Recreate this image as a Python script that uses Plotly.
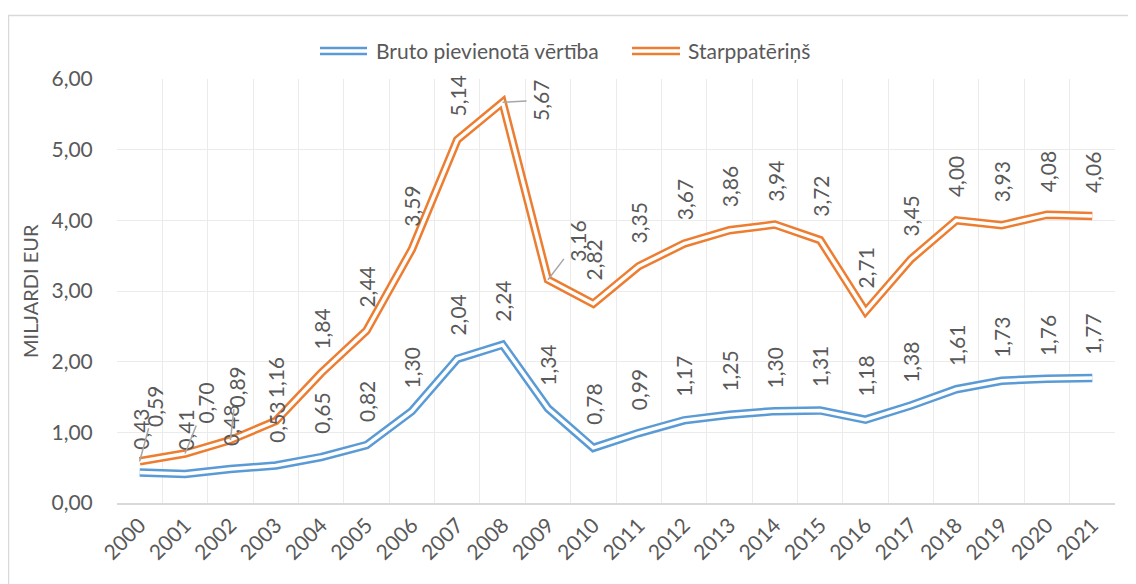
import plotly.graph_objects as go

years = [str(y) for y in range(2000, 2022)]
bruto = [0.43, 0.41, 0.48, 0.53, 0.65, 0.82, 1.30, 2.04, 2.24, 1.34, 0.78,
         0.99, 1.17, 1.25, 1.30, 1.31, 1.18, 1.38, 1.61, 1.73, 1.76, 1.77]
starp = [0.59, 0.70, 0.89, 1.16, 1.84, 2.44, 3.59, 5.14, 5.67, 3.16, 2.82,
         3.35, 3.67, 3.86, 3.94, 3.72, 2.71, 3.45, 4.00, 3.93, 4.08, 4.06]
series_names = ["Bruto pievienotā vērtība", "Starppatēriņš"]
colors = ["#5B9BD5", "#ED7D31"]
y_ticks = [0, 1, 2, 3, 4, 5, 6]
y_tick_text = ["0,00", "1,00", "2,00", "3,00", "4,00", "5,00", "6,00"]
y_title = "MILJARDI EUR"

# moved labels (Starppatēriņš) with leader lines: index -> (dx, dy) pixel offsets
moved_starp = {0: (15, -55), 1: (20, -50), 2: (6, -53), 8: (38, -2), 9: (30, -39)}

FONT = "Lato"
TXT = "#595959"
OFF = 8  # page body margin
W, H = 1136 - OFF, 584 - OFF
L, T = 117 - OFF, 79 - OFF
R = W - (1115 - OFF)
B = H - (503 - OFF)
pw, ph = W - L - R, H - T - B

def px_x(px):
    return (px - OFF - L) / pw

def px_y(py):
    return (H - B - (py - OFF)) / ph

fig = go.Figure()
for vals, col in [(bruto, colors[0]), (starp, colors[1])]:
    fig.add_trace(go.Scatter(x=years, y=vals, mode="lines",
                             line=dict(color=col, width=8.5, simplify=False),
                             showlegend=False, hoverinfo="skip"))
    fig.add_trace(go.Scatter(x=years, y=vals, mode="lines",
                             line=dict(color="white", width=3.5, simplify=False),
                             showlegend=False, hoverinfo="skip"))

def fmt(v):
    return f"{v:.2f}".replace(".", ",")

annotations = []
for i, v in enumerate(bruto):
    annotations.append(dict(x=i, y=v, text=fmt(v), textangle=-90, showarrow=False,
                            xanchor="center", yanchor="bottom", yshift=21,
                            font=dict(family=FONT, size=21, color=TXT)))
for i, v in enumerate(starp):
    if i in moved_starp:
        dx, dy = moved_starp[i]
        annotations.append(dict(x=i, y=v, text=fmt(v), textangle=-90, showarrow=True,
                                ax=dx, ay=dy, arrowhead=0, arrowwidth=1.5,
                                arrowcolor="#A6A6A6", standoff=0,
                                font=dict(family=FONT, size=21, color=TXT)))
    else:
        annotations.append(dict(x=i, y=v, text=fmt(v), textangle=-90, showarrow=False,
                                xanchor="center", yanchor="bottom", yshift=21,
                                font=dict(family=FONT, size=21, color=TXT)))

# y-axis title
annotations.append(dict(xref="paper", yref="paper", x=px_x(30), y=0.5, text=y_title,
                        textangle=-90, showarrow=False, xanchor="center", yanchor="middle",
                        font=dict(family=FONT, size=20, color=TXT)))

# manual legend (double line swatches)
shapes = []
legend_items = [(320, 367, 374), (632, 680, 686)]
leg_y = 51
for (x0, x1, tx), name, col in zip(legend_items, series_names, colors):
    shapes.append(dict(type="line", xref="paper", yref="paper",
                       x0=px_x(x0), x1=px_x(x1), y0=px_y(leg_y), y1=px_y(leg_y),
                       line=dict(color=col, width=8.5)))
    shapes.append(dict(type="line", xref="paper", yref="paper",
                       x0=px_x(x0), x1=px_x(x1), y0=px_y(leg_y), y1=px_y(leg_y),
                       line=dict(color="white", width=3.5)))
    annotations.append(dict(xref="paper", yref="paper", x=px_x(tx), y=px_y(leg_y),
                            text=name, showarrow=False, xanchor="left", yanchor="middle",
                            font=dict(family=FONT, size=21, color=TXT)))

# chart border (left and top edges visible)
shapes.append(dict(type="line", xref="paper", yref="paper", x0=px_x(8.5), x1=px_x(8.5),
                   y0=px_y(15), y1=px_y(600), line=dict(color="#D9D9D9", width=1.5)))
shapes.append(dict(type="line", xref="paper", yref="paper", x0=px_x(8), x1=px_x(1150),
                   y0=px_y(15.5), y1=px_y(15.5), line=dict(color="#D9D9D9", width=1.5)))

fig.update_layout(
    width=W, height=H,
    margin=dict(l=L, r=R, t=T, b=B, autoexpand=False),
    paper_bgcolor="white", plot_bgcolor="white",
    showlegend=False,
    annotations=annotations, shapes=shapes,
    xaxis=dict(type="category", range=[-0.5, len(years) - 0.5], tickson="boundaries",
               showgrid=True, gridcolor="#EBEBEB", gridwidth=1,
               tickangle=-45, ticks="outside", ticklen=9, tickcolor="rgba(0,0,0,0)",
               tickfont=dict(family=FONT, size=21, color=TXT),
               showline=True, linecolor="#D9D9D9", linewidth=1.5, zeroline=False),
    yaxis=dict(range=[0, 6], tickvals=y_ticks, ticktext=y_tick_text,
               showgrid=True, gridcolor="#EBEBEB", gridwidth=1,
               ticks="outside", ticklen=19, tickcolor="rgba(0,0,0,0)",
               tickfont=dict(family=FONT, size=21, color=TXT),
               zeroline=False, showline=False),
)

fig.write_html("out.html")
